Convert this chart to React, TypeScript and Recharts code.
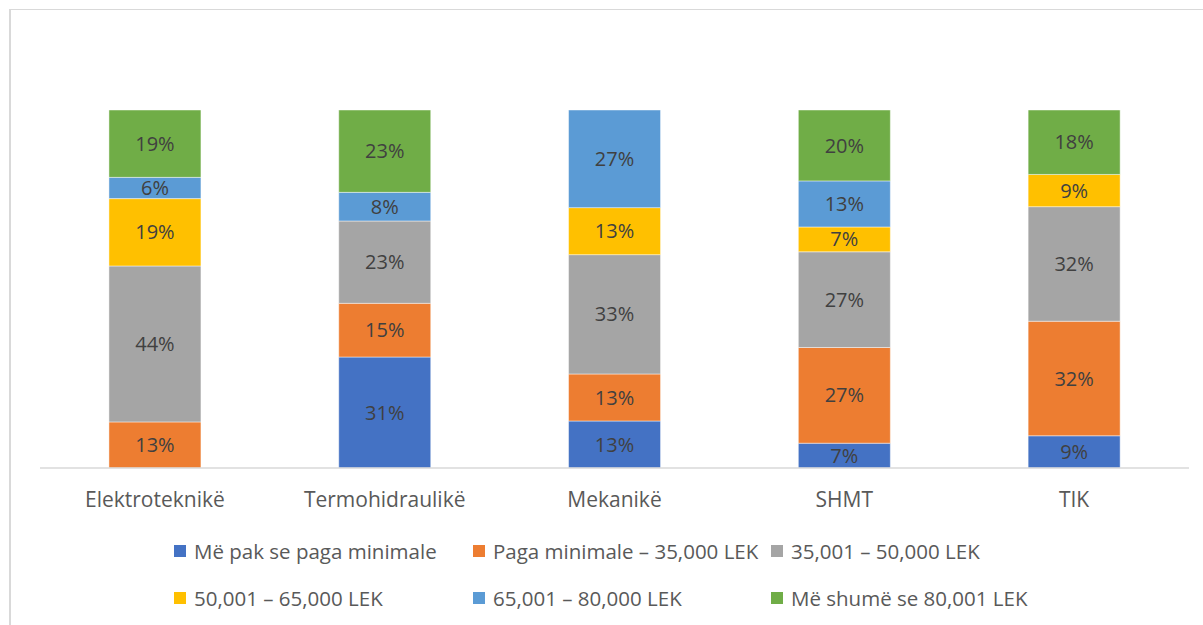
import React from 'react';
import { BarChart, Bar, XAxis, YAxis, Legend, LabelList } from 'recharts';

const categories = ['Elektroteknikë', 'Termohidraulikë', 'Mekanikë', 'SHMT', 'TIK'];

const belowMin = [0, 31, 13, 7, 9];
const minTo35 = [13, 15, 13, 27, 32];
const from35to50 = [44, 23, 33, 27, 32];
const from50to65 = [19, 0, 13, 7, 9];
const from65to80 = [6, 8, 27, 13, 0];
const above80 = [19, 23, 0, 20, 18];

const seriesNames = [
  'Më pak se paga minimale',
  'Paga minimale – 35,000 LEK',
  '35,001 – 50,000 LEK',
  '50,001 – 65,000 LEK',
  '65,001 – 80,000 LEK',
  'Më shumë se 80,001 LEK',
];
const seriesColors = ['#4472C4', '#ED7D31', '#A5A5A5', '#FFC000', '#5B9BD5', '#70AD47'];
const seriesValues = [belowMin, minTo35, from35to50, from50to65, from65to80, above80];

const data = categories.map((name, i) => {
  const row: any = { name };
  seriesValues.forEach((vals, s) => {
    row['s' + s] = vals[i];
  });
  return row;
});

const FONT = '"Open Sans", "Noto Sans", sans-serif';

// keep legend in series order (recharts sorts by name otherwise)
const LegendGrid = ({ payload }: any) => {
  const items = [...(payload || [])].sort(
    (a: any, b: any) => seriesNames.indexOf(a.value) - seriesNames.indexOf(b.value)
  );
  return (
    <div
      style={{
        display: 'grid',
        gridTemplateColumns: '299px 298px 300px',
        rowGap: 21,
        fontFamily: FONT,
        fontSize: 20.5,
        color: '#595959',
      }}
    >
      {items.map((p: any) => (
        <div key={p.value} style={{ display: 'flex', alignItems: 'center', height: 26, whiteSpace: 'nowrap' }}>
          <span style={{ width: 12, height: 12, background: p.color, marginRight: 8, display: 'inline-block', flex: 'none' }} />
          {p.value}
        </div>
      ))}
    </div>
  );
};

const fmt = (v: any) => (v ? v + '%' : '');

export default function App() {
  return (
    <div style={{ position: 'absolute', left: 0, top: 0, width: 1203, height: 625, overflow: 'hidden', background: '#fff' }}>
      <div
        style={{
          position: 'absolute',
          left: 9,
          top: 9,
          width: 1220,
          height: 700,
          borderLeft: '2px solid #d9d9d9',
          borderTop: '1.5px solid #d9d9d9',
        }}
      />
      <div style={{ position: 'absolute', left: 0, top: 0 }}>
        <BarChart
          width={1203}
          height={625}
          data={data}
          stackOffset="expand"
          barCategoryGap="30%"
          margin={{ top: 110, right: 14, bottom: 127, left: 40 }}
        >
          <XAxis
            dataKey="name"
            height={30}
            tickLine={false}
            tickMargin={18}
            axisLine={{ stroke: '#d9d9d9', strokeWidth: 1.5 }}
            tick={{ fontSize: 21, fill: '#595959', fontFamily: FONT }}
          />
          <YAxis hide domain={[0, 1]} />
          <Legend
            layout="horizontal"
            verticalAlign="middle"
            align="center"
            content={<LegendGrid />}
            wrapperStyle={{ top: 538, left: 174, width: 920 }}
          />
          {seriesNames.map((n, s) => (
            <Bar
              key={n}
              dataKey={'s' + s}
              name={n}
              stackId="a"
              fill={seriesColors[s]}
              stroke="#ffffff"
              strokeOpacity={0.45}
              strokeWidth={1}
              isAnimationActive={false}
            >
              <LabelList
                dataKey={'s' + s}
                position="center"
                formatter={fmt}
                fill="#404040"
                fontSize={20}
                fontFamily={FONT}
              />
            </Bar>
          ))}
        </BarChart>
      </div>
    </div>
  );
}
